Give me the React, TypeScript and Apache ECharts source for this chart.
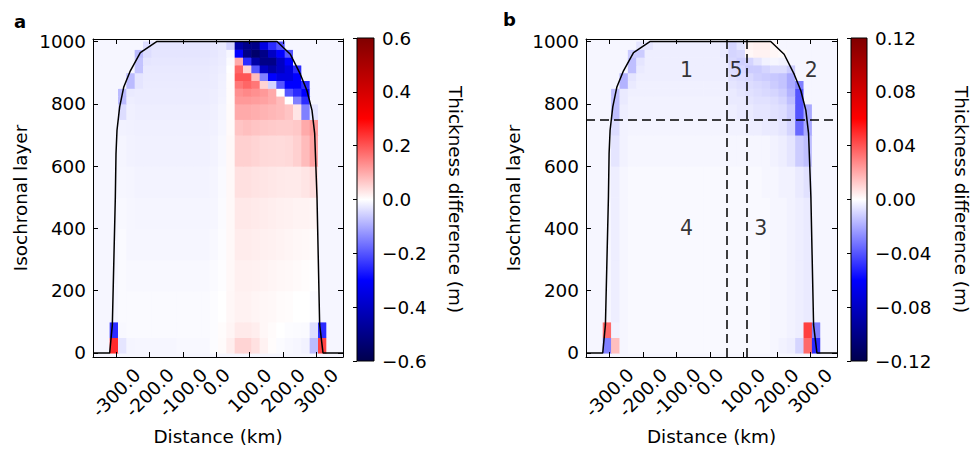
import React, { useEffect, useRef } from 'react';
import * as echarts from 'echarts';

// ---------- data ----------
const DIST_EDGES = [-370, -345, -320, -295, -270, -245, -220, -195, -170, -145, -120, -95, -70, -45, -20, 5, 30, 55, 80, 105, 130, 155, 180, 205, 230, 255, 280, 305, 330, 355, 380];
const LAYER_EDGES = [0, 50, 100, 200, 300, 400, 500, 600, 700, 750, 800, 825, 850, 875, 900, 925, 950, 975, 1000];

// panel a : thickness difference (m); one row per layer band (bottom to top), one value per distance cell
const DIFF_A = [
  [-0.01, -0.01, 0.25, -0.03, -0.012, -0.01, -0.01, -0.01, -0.01, -0.01, -0.008, -0.008, -0.008, -0.008, -0.004, 0.005, 0.02, 0.05, 0.05, 0.035, 0.015, 0.003, -0.005, -0.008, -0.01, -0.015, -0.08, 0.22, -0.01, -0.01],
  [-0.01, -0.01, -0.25, -0.008, -0.006, -0.006, -0.006, -0.006, -0.006, -0.006, -0.006, -0.006, -0.006, -0.006, -0.003, 0.003, 0.012, 0.025, 0.025, 0.02, 0.01, 0.005, 0, -0.003, -0.005, -0.006, -0.04, -0.25, -0.01, -0.01],
  [-0.01, -0.01, -0.01, -0.006, -0.006, -0.006, -0.006, -0.006, -0.006, -0.006, -0.006, -0.006, -0.006, -0.006, -0.004, 0, 0.01, 0.015, 0.015, 0.012, 0.01, 0.008, 0.005, 0.003, 0, 0, -0.005, -0.01, -0.01, -0.01],
  [-0.01, -0.01, -0.01, -0.006, -0.008, -0.008, -0.008, -0.008, -0.008, -0.008, -0.008, -0.008, -0.008, -0.008, -0.006, -0.002, 0.008, 0.018, 0.018, 0.016, 0.014, 0.012, 0.01, 0.008, 0.006, 0.004, 0, -0.01, -0.01, -0.01],
  [-0.01, -0.01, -0.01, -0.006, -0.01, -0.01, -0.01, -0.01, -0.01, -0.01, -0.01, -0.01, -0.01, -0.01, -0.008, -0.004, 0.008, 0.022, 0.022, 0.02, 0.018, 0.016, 0.014, 0.012, 0.01, 0.008, 0.005, -0.01, -0.01, -0.01],
  [-0.01, -0.01, -0.01, -0.008, -0.01, -0.012, -0.012, -0.012, -0.012, -0.012, -0.012, -0.012, -0.012, -0.012, -0.01, -0.005, 0.008, 0.027, 0.027, 0.025, 0.022, 0.02, 0.018, 0.016, 0.014, 0.014, 0.012, -0.01, -0.01, -0.01],
  [-0.01, -0.01, -0.01, -0.01, -0.012, -0.014, -0.014, -0.014, -0.014, -0.014, -0.014, -0.014, -0.014, -0.014, -0.012, -0.006, 0.008, 0.036, 0.036, 0.033, 0.03, 0.028, 0.026, 0.025, 0.025, 0.03, 0.04, -0.01, -0.01, -0.01],
  [-0.01, -0.01, -0.01, -0.012, -0.015, -0.016, -0.016, -0.016, -0.016, -0.016, -0.016, -0.016, -0.016, -0.016, -0.014, -0.008, 0.008, 0.055, 0.055, 0.05, 0.045, 0.043, 0.042, 0.045, 0.055, 0.08, 0.11, -0.01, -0.01, -0.01],
  [-0.01, -0.01, -0.01, -0.015, -0.016, -0.018, -0.018, -0.018, -0.018, -0.018, -0.018, -0.018, -0.018, -0.018, -0.016, -0.01, 0.006, 0.07, 0.075, 0.07, 0.065, 0.062, 0.06, 0.06, 0.065, 0.1, 0.12, -0.01, -0.01, -0.01],
  [-0.01, -0.01, -0.01, -0.04, -0.018, -0.02, -0.02, -0.02, -0.02, -0.02, -0.02, -0.02, -0.02, -0.02, -0.018, -0.012, 0.005, 0.1, 0.1, 0.095, 0.09, 0.085, 0.08, 0.07, 0.03, -0.15, -0.03, -0.01, -0.01, -0.01],
  [-0.01, -0.01, -0.01, -0.08, -0.02, -0.022, -0.022, -0.022, -0.022, -0.022, -0.022, -0.022, -0.022, -0.022, -0.02, -0.014, 0.004, 0.12, 0.12, 0.115, 0.11, 0.1, 0.08, 0, -0.15, -0.25, -0.01, -0.01, -0.01, -0.01],
  [-0.01, -0.01, -0.01, -0.08, -0.025, -0.022, -0.022, -0.022, -0.022, -0.022, -0.022, -0.022, -0.022, -0.022, -0.02, -0.015, 0.004, 0.13, 0.14, 0.13, 0.12, 0.1, 0, -0.2, -0.25, -0.3, -0.01, -0.01, -0.01, -0.01],
  [-0.01, -0.01, -0.01, -0.01, -0.08, -0.03, -0.024, -0.024, -0.024, -0.024, -0.024, -0.024, -0.024, -0.024, -0.022, -0.016, 0.003, 0.16, 0.18, 0.16, 0.05, -0.05, -0.2, -0.3, -0.3, -0.25, -0.01, -0.01, -0.01, -0.01],
  [-0.01, -0.01, -0.01, -0.01, -0.08, -0.03, -0.025, -0.025, -0.025, -0.025, -0.025, -0.025, -0.025, -0.025, -0.022, -0.018, 0.002, 0.2, 0.2, 0.08, -0.15, -0.3, -0.35, -0.35, -0.3, -0.01, -0.01, -0.01, -0.01, -0.01],
  [-0.01, -0.01, -0.01, -0.01, -0.01, -0.07, -0.026, -0.026, -0.026, -0.026, -0.026, -0.026, -0.026, -0.026, -0.024, -0.02, 0, 0.18, 0.05, -0.2, -0.4, -0.45, -0.4, -0.35, -0.25, -0.01, -0.01, -0.01, -0.01, -0.01],
  [-0.01, -0.01, -0.01, -0.01, -0.01, -0.07, -0.03, -0.028, -0.028, -0.028, -0.028, -0.028, -0.028, -0.028, -0.026, -0.022, -0.005, 0.1, -0.25, -0.45, -0.5, -0.5, -0.4, -0.3, -0.01, -0.01, -0.01, -0.01, -0.01, -0.01],
  [-0.01, -0.01, -0.01, -0.01, -0.01, -0.08, -0.04, -0.03, -0.03, -0.03, -0.03, -0.03, -0.03, -0.03, -0.028, -0.024, -0.01, -0.3, -0.5, -0.55, -0.5, -0.4, -0.3, -0.2, -0.01, -0.01, -0.01, -0.01, -0.01, -0.01],
  [-0.01, -0.01, -0.01, -0.01, -0.01, -0.01, -0.04, -0.03, -0.03, -0.03, -0.03, -0.03, -0.03, -0.03, -0.028, -0.025, -0.05, -0.45, -0.5, -0.5, -0.35, -0.25, -0.2, -0.01, -0.01, -0.01, -0.01, -0.01, -0.01, -0.01],
];

// panel b : thickness difference (m)
const DIFF_B = [
  [-0.002, -0.002, -0.03, 0.015, -0.002, -0.0015, -0.0015, -0.0015, -0.0015, -0.0015, -0.0015, -0.0015, -0.0015, -0.0015, -0.0015, -0.0015, -0.0015, -0.0015, -0.0015, -0.0015, -0.0015, -0.0015, -0.002, -0.003, -0.004, -0.01, 0.035, -0.05, -0.002, -0.002],
  [-0.002, -0.002, 0.035, -0.003, -0.002, -0.0015, -0.0015, -0.0015, -0.0015, -0.0015, -0.0015, -0.0015, -0.0015, -0.0015, -0.0015, -0.0015, -0.0015, -0.0015, -0.0015, -0.0015, -0.0015, -0.0015, -0.002, -0.002, -0.003, -0.004, 0.045, -0.03, -0.002, -0.002],
  [-0.002, -0.002, -0.002, -0.004, -0.002, -0.0015, -0.0015, -0.0015, -0.0015, -0.0015, -0.0015, -0.0015, -0.0015, -0.0015, -0.0015, -0.0015, -0.0015, -0.0015, -0.0015, -0.0015, -0.0015, -0.0015, -0.002, -0.002, -0.003, -0.004, -0.005, -0.002, -0.002, -0.002],
  [-0.002, -0.002, -0.002, -0.004, -0.002, -0.0015, -0.0015, -0.0015, -0.0015, -0.0015, -0.0015, -0.0015, -0.0015, -0.0015, -0.0015, -0.0015, -0.0015, -0.0015, -0.0015, -0.0015, -0.0015, -0.0015, -0.002, -0.002, -0.003, -0.004, -0.005, -0.002, -0.002, -0.002],
  [-0.002, -0.002, -0.002, -0.004, -0.002, -0.0015, -0.0015, -0.0015, -0.0015, -0.0015, -0.0015, -0.0015, -0.0015, -0.0015, -0.0015, -0.0015, -0.0015, -0.0015, -0.0015, -0.0015, -0.0015, -0.0015, -0.002, -0.002, -0.003, -0.004, -0.005, -0.002, -0.002, -0.002],
  [-0.002, -0.002, -0.002, -0.004, -0.002, -0.0015, -0.0015, -0.0015, -0.0015, -0.0015, -0.0015, -0.0015, -0.0015, -0.0015, -0.0015, -0.0015, -0.0015, -0.0015, -0.0015, -0.0015, -0.0015, -0.0015, -0.002, -0.002, -0.003, -0.004, -0.005, -0.002, -0.002, -0.002],
  [-0.002, -0.002, -0.002, -0.004, -0.002, -0.0015, -0.0015, -0.0015, -0.0015, -0.0015, -0.0015, -0.0015, -0.0015, -0.0015, -0.0015, -0.0015, -0.0015, -0.0015, -0.0015, -0.0015, -0.0015, -0.002, -0.002, -0.003, -0.003, -0.005, -0.007, -0.002, -0.002, -0.002],
  [-0.002, -0.002, -0.002, -0.006, -0.003, -0.002, -0.002, -0.002, -0.002, -0.002, -0.002, -0.002, -0.002, -0.002, -0.002, -0.002, -0.002, -0.002, -0.002, -0.002, -0.002, -0.002, -0.003, -0.004, -0.006, -0.012, -0.015, -0.002, -0.002, -0.002],
  [-0.002, -0.002, -0.002, -0.008, -0.003, -0.0025, -0.0025, -0.0025, -0.0025, -0.0025, -0.0025, -0.0025, -0.0025, -0.0025, -0.0025, -0.0025, -0.0025, -0.003, -0.003, -0.004, -0.004, -0.005, -0.005, -0.006, -0.01, -0.035, -0.02, -0.002, -0.002, -0.002],
  [-0.002, -0.002, -0.002, -0.015, -0.004, -0.003, -0.003, -0.003, -0.003, -0.003, -0.003, -0.003, -0.003, -0.003, -0.003, -0.003, -0.003, -0.004, -0.005, -0.005, -0.006, -0.006, -0.007, -0.008, -0.012, -0.04, -0.02, -0.002, -0.002, -0.002],
  [-0.002, -0.002, -0.002, -0.015, -0.005, -0.003, -0.003, -0.003, -0.003, -0.003, -0.003, -0.003, -0.003, -0.003, -0.003, -0.003, -0.003, -0.005, -0.005, -0.006, -0.007, -0.007, -0.008, -0.01, -0.015, -0.04, -0.002, -0.002, -0.002, -0.002],
  [-0.002, -0.002, -0.002, -0.015, -0.005, -0.0035, -0.0035, -0.0035, -0.0035, -0.0035, -0.0035, -0.0035, -0.0035, -0.0035, -0.0035, -0.0035, -0.0035, -0.005, -0.006, -0.007, -0.008, -0.009, -0.01, -0.012, -0.018, -0.04, -0.002, -0.002, -0.002, -0.002],
  [-0.002, -0.002, -0.002, -0.002, -0.018, -0.005, -0.0035, -0.0035, -0.0035, -0.0035, -0.0035, -0.0035, -0.0035, -0.0035, -0.0035, -0.0035, -0.0035, -0.006, -0.007, -0.008, -0.009, -0.01, -0.012, -0.014, -0.02, -0.03, -0.002, -0.002, -0.002, -0.002],
  [-0.002, -0.002, -0.002, -0.002, -0.018, -0.006, -0.004, -0.004, -0.004, -0.004, -0.004, -0.004, -0.004, -0.004, -0.004, -0.004, -0.004, -0.007, -0.008, -0.009, -0.011, -0.012, -0.013, -0.014, -0.02, -0.002, -0.002, -0.002, -0.002, -0.002],
  [-0.002, -0.002, -0.002, -0.002, -0.002, -0.015, -0.005, -0.004, -0.004, -0.004, -0.004, -0.004, -0.004, -0.004, -0.004, -0.004, -0.004, -0.008, -0.009, -0.012, -0.012, -0.01, -0.008, -0.008, -0.012, -0.002, -0.002, -0.002, -0.002, -0.002],
  [-0.002, -0.002, -0.002, -0.002, -0.002, -0.015, -0.006, -0.004, -0.004, -0.004, -0.004, -0.004, -0.004, -0.004, -0.004, -0.004, -0.004, -0.009, -0.011, -0.01, -0.006, -0.003, -0.002, -0.003, -0.002, -0.002, -0.002, -0.002, -0.002, -0.002],
  [-0.002, -0.002, -0.002, -0.002, -0.002, -0.012, -0.012, -0.004, -0.004, -0.004, -0.004, -0.004, -0.004, -0.004, -0.004, -0.004, -0.005, -0.01, -0.009, 0.002, 0.003, 0.003, 0.002, 0.001, -0.002, -0.002, -0.002, -0.002, -0.002, -0.002],
  [-0.002, -0.002, -0.002, -0.002, -0.002, -0.002, -0.006, -0.006, -0.004, -0.004, -0.004, -0.004, -0.004, -0.004, -0.004, -0.004, -0.005, -0.01, -0.006, 0.003, 0.004, 0.004, 0.002, -0.002, -0.002, -0.002, -0.002, -0.002, -0.002, -0.002],
];

// ice outline (distance km, isochronal layer)
const OUTLINE_DIST = [-370, -320, -312, -303, -301, -298, -290, -278, -258, -228, -178, 182, 222, 252, 272, 287, 295, 302, 310, 320, 380];
const OUTLINE_LAYER = [0, 0, 90, 500, 640, 715, 790, 853, 906, 964, 1000, 1000, 959, 895, 842, 779, 705, 500, 90, 0, 0];

// panel b region boundaries and labels
const BOUNDARY_LAYER = [750];
const BOUNDARY_DIST = [50, 110];
const REGION_NAMES = ['1', '5', '2', '4', '3'];
const REGION_DIST = [-70, 78, 303, -70, 152];
const REGION_LAYER = [910, 910, 910, 400, 400];

const X_TICKS = [-300, -200, -100, 0, 100, 200, 300];
const Y_TICKS = [0, 200, 400, 600, 800, 1000];
const CBAR_A_TICKS = [-0.6, -0.4, -0.2, 0, 0.2, 0.4, 0.6];
const CBAR_B_TICKS = [-0.12, -0.08, -0.04, 0, 0.04, 0.08, 0.12];
const LIMIT_A = 0.6;
const LIMIT_B = 0.12;
const DIST_RANGE = [-370, 380];
const LAYER_RANGE = [-13, 1008];

// ---------- styling ----------
const FONT = 'DejaVu Sans';
const SEISMIC = ['#00004d', '#0000ff', '#ffffff', '#ff0000', '#800000'];
const TXT = { color: '#000', fontFamily: FONT, fontSize: 18.4 };

function cells(values: number[][]) {
  const out: number[][] = [];
  values.forEach((row, i) =>
    row.forEach((v, j) => out.push([DIST_EDGES[j], DIST_EDGES[j + 1], LAYER_EDGES[i], LAYER_EDGES[i + 1], v]))
  );
  return out;
}

const renderCell = (_p: any, api: any) => {
  const p0 = api.coord([api.value(0), api.value(3)]);
  const p1 = api.coord([api.value(1), api.value(2)]);
  return {
    type: 'rect',
    shape: { x: p0[0], y: p0[1], width: p1[0] - p0[0] + 0.6, height: p1[1] - p0[1] + 0.6 },
    style: { fill: api.visual('color') },
  };
};

const renderBar = (_p: any, api: any) => {
  const p0 = api.coord([api.value(0), api.value(3)]);
  const p1 = api.coord([api.value(1), api.value(2)]);
  return {
    type: 'rect',
    shape: { x: p0[0], y: p0[1], width: p1[0] - p0[0], height: p1[1] - p0[1] },
    style: {
      fill: new echarts.graphic.LinearGradient(0, 0, 0, 1, SEISMIC.slice().reverse().map((c, i) => ({ offset: i / 4, color: c }))),
      stroke: '#000',
      lineWidth: 1,
    },
  };
};

const richX = {
  w3: { ...TXT, padding: [0, 0, 0, 0] },
  w5: { ...TXT, padding: [12, 12, 0, 0] },
  w6: { ...TXT, padding: [15, 15, 0, 0] },
};

function mainXAxes(gridIndex: number) {
  const base = {
    gridIndex, type: 'value', min: DIST_RANGE[0], max: DIST_RANGE[1], z: 10,
    splitLine: { show: false },
    axisLine: { show: true, onZero: false, lineStyle: { color: '#000', width: 1 } },
    axisTick: { show: true, inside: true, length: 5, customValues: X_TICKS, lineStyle: { color: '#000' } },
  };
  return [
    {
      ...base, position: 'bottom',
      name: 'Distance (km)', nameLocation: 'middle', nameGap: 70, nameTextStyle: TXT,
      axisLabel: {
        customValues: X_TICKS, rotate: 45, align: 'center', verticalAlign: 'middle', margin: 25,
        formatter: (v: number) => { const s = v.toFixed(1); return `{w${s.length}|${s}}`; },
        rich: richX, ...TXT,
      },
    },
    { ...base, position: 'top', axisLabel: { show: false } },
  ];
}

function mainYAxes(gridIndex: number) {
  const base = {
    gridIndex, type: 'value', min: LAYER_RANGE[0], max: LAYER_RANGE[1], z: 10,
    splitLine: { show: false },
    axisLine: { show: true, onZero: false, lineStyle: { color: '#000', width: 1 } },
    axisTick: { show: true, inside: true, length: 5, customValues: Y_TICKS, lineStyle: { color: '#000' } },
  };
  return [
    {
      ...base, position: 'left',
      name: 'Isochronal layer', nameLocation: 'middle', nameGap: 64, nameTextStyle: TXT,
      axisLabel: { customValues: Y_TICKS, margin: 7, formatter: (v: number) => String(v), ...TXT },
    },
    { ...base, position: 'right', axisLabel: { show: false } },
  ];
}

function barAxes(gridIndex: number, limit: number, ticks: number[], decimals: number, gap: number) {
  return {
    x: { gridIndex, type: 'value', min: 0, max: 1, show: false },
    y: {
      gridIndex, type: 'value', min: -limit, max: limit, position: 'right', z: 10,
      splitLine: { show: false },
      axisLine: { show: false },
      axisTick: { show: true, inside: true, length: 4, customValues: ticks, lineStyle: { color: '#000' } },
      axisLabel: {
        customValues: ticks, margin: 8, ...TXT,
        formatter: (v: number) => (v < 0 ? '\u2212' : '') + Math.abs(v).toFixed(decimals),
      },
      name: 'Thickness difference (m)', nameLocation: 'middle', nameRotate: -90, nameGap: gap, nameTextStyle: TXT,
    },
  };
}

const barA = barAxes(1, LIMIT_A, CBAR_A_TICKS, 1, 72);
const barB = barAxes(3, LIMIT_B, CBAR_B_TICKS, 2, 85);
const xa = mainXAxes(0);
const ya = mainYAxes(0);
const xb = mainXAxes(2);
const yb = mainYAxes(2);

const outlineData = OUTLINE_DIST.map((d, i) => [d, OUTLINE_LAYER[i]]);

const outlineSeries = (xi: number, yi: number, extra: any = {}) => ({
  type: 'line', xAxisIndex: xi, yAxisIndex: yi, data: outlineData, showSymbol: false, symbol: 'none',
  lineStyle: { color: '#000', width: 1.5 }, z: 5, silent: true, ...extra,
});

const option: any = {
  animation: false,
  textStyle: { fontFamily: FONT },
  grid: [
    { left: 93, top: 39, width: 250, height: 322, show: true, backgroundColor: '#f6f6fe', borderWidth: 0 },
    { left: 357, top: 38, width: 17, height: 323 },
    { left: 586, top: 39, width: 251, height: 322, show: true, backgroundColor: '#f6f6fe', borderWidth: 0 },
    { left: 851, top: 38, width: 17, height: 323 },
  ],
  xAxis: [xa[0], xa[1], barA.x, xb[0], xb[1], barB.x],
  yAxis: [ya[0], ya[1], barA.y, yb[0], yb[1], barB.y],
  visualMap: [
    { type: 'continuous', show: false, seriesIndex: 0, dimension: 4, min: -LIMIT_A, max: LIMIT_A, inRange: { color: SEISMIC } },
    { type: 'continuous', show: false, seriesIndex: 3, dimension: 4, min: -LIMIT_B, max: LIMIT_B, inRange: { color: SEISMIC } },
  ],
  graphic: [
    { type: 'text', left: 14, top: 12, style: { text: 'a', font: `bold 18px "${FONT}"`, fill: '#000' } },
    { type: 'text', left: 503, top: 10, style: { text: 'b', font: `bold 18px "${FONT}"`, fill: '#000' } },
  ],
  series: [
    { type: 'custom', xAxisIndex: 0, yAxisIndex: 0, data: cells(DIFF_A), renderItem: renderCell, encode: { x: [0, 1], y: [2, 3] }, clip: true, silent: true },
    outlineSeries(0, 0),
    { type: 'custom', xAxisIndex: 2, yAxisIndex: 2, data: [[0, 1, -LIMIT_A, LIMIT_A]], renderItem: renderBar, encode: { x: [0, 1], y: [2, 3] }, silent: true },
    { type: 'custom', xAxisIndex: 3, yAxisIndex: 3, data: cells(DIFF_B), renderItem: renderCell, encode: { x: [0, 1], y: [2, 3] }, clip: true, silent: true },
    outlineSeries(3, 3, {
      markLine: {
        silent: true, symbol: ['none', 'none'], label: { show: false },
        lineStyle: { color: '#000', width: 1.5, type: [9, 5] },
        data: [...BOUNDARY_LAYER.map((l) => ({ yAxis: l })), ...BOUNDARY_DIST.map((d) => ({ xAxis: d }))],
      },
    }),
    {
      type: 'scatter', xAxisIndex: 3, yAxisIndex: 3, symbolSize: 1, z: 6, silent: true,
      itemStyle: { color: 'rgba(0,0,0,0)' },
      label: { show: true, position: 'inside', formatter: '{b}', ...TXT, fontSize: 20.5 },
      data: REGION_NAMES.map((n, i) => ({ name: n, value: [REGION_DIST[i], REGION_LAYER[i]] })),
    },
    { type: 'custom', xAxisIndex: 5, yAxisIndex: 5, data: [[0, 1, -LIMIT_B, LIMIT_B]], renderItem: renderBar, encode: { x: [0, 1], y: [2, 3] }, silent: true },
  ],
};

export default function App() {
  const ref = useRef<HTMLDivElement>(null);
  useEffect(() => {
    const chart = echarts.init(ref.current!, null, { renderer: 'svg' });
    chart.setOption(option);
    return () => chart.dispose();
  }, []);
  return <div ref={ref} style={{ position: 'fixed', left: 0, top: 0, width: 971, height: 450, background: '#fff' }} />;
}
